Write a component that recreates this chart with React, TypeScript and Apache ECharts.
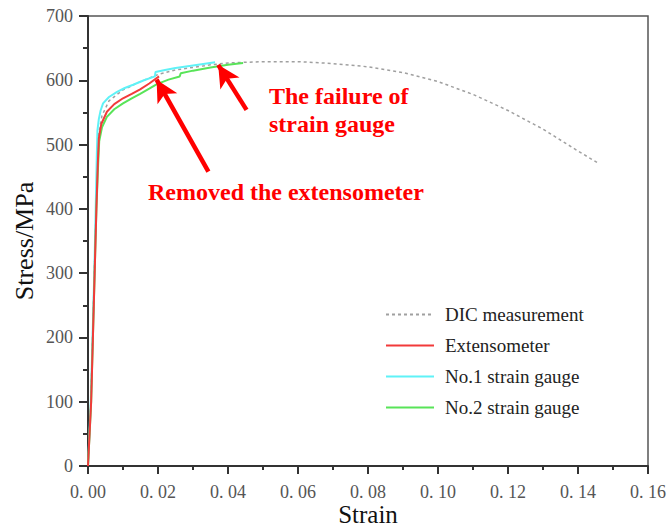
import React, { useEffect, useRef } from "react";
import * as echarts from "echarts";

const seriesNames = ["DIC measurement", "Extensometer", "No.1 strain gauge", "No.2 strain gauge"];

const dicData: number[][] = [
  [0, 0], [0.0008, 100], [0.0013, 200], [0.0018, 300], [0.0023, 400], [0.0027, 480], [0.003, 515],
  [0.004, 545], [0.006, 568], [0.01, 585], [0.015, 598], [0.02, 609], [0.025, 616], [0.03, 620],
  [0.035, 624], [0.04, 627], [0.05, 629], [0.06, 629], [0.07, 626], [0.08, 621], [0.09, 612],
  [0.1, 598], [0.11, 578], [0.12, 553], [0.13, 524], [0.14, 490], [0.1455, 472],
];

const extData: number[][] = [
  [0, 0], [0.0009, 100], [0.0014, 200], [0.0019, 300], [0.0024, 400], [0.0028, 470], [0.0031, 510],
  [0.0038, 532], [0.0054, 551], [0.0075, 563], [0.01, 572], [0.0125, 579], [0.0149, 586],
  [0.0175, 595], [0.0203, 606],
];

const gauge1Data: number[][] = [
  [0, 0], [0.0008, 100], [0.0013, 200], [0.0018, 300], [0.0022, 400], [0.0025, 480], [0.0027, 522],
  [0.0031, 540], [0.0036, 553], [0.0043, 564], [0.006, 574], [0.0083, 582], [0.0105, 588],
  [0.0129, 593], [0.016, 600], [0.0191, 606], [0.0193, 613], [0.022, 616], [0.025, 619],
  [0.03, 623], [0.0363, 628],
];

const gauge2Data: number[][] = [
  [0, 0], [0.0009, 100], [0.0014, 200], [0.0019, 300], [0.0024, 400], [0.0029, 470], [0.0032, 505],
  [0.004, 527], [0.0054, 543], [0.0075, 555], [0.01, 564], [0.0125, 572], [0.0149, 579],
  [0.0175, 587], [0.0197, 594], [0.023, 601], [0.0262, 606], [0.0265, 611], [0.03, 615],
  [0.035, 620], [0.04, 624], [0.0443, 627],
];

// annotation arrows: [tail, tip] in data coordinates
const arrowRemoved: number[][] = [[0.0344, 458], [0.0196, 601]];
const arrowFailure: number[][] = [[0.0453, 554], [0.0372, 624]];

const annotationTexts = ["Removed the extensometer", "The failure of", "strain gauge"];

export default function App() {
  const ref = useRef<HTMLDivElement>(null);
  useEffect(() => {
    if (!ref.current) return;
    const chart = echarts.init(ref.current, null, { renderer: "svg" });
    const serif = "'Liberation Serif', 'Times New Roman', serif";
    const arrowStyle = { color: "#ff0000", width: 4.5, type: "solid" as const };
    chart.setOption({
      animation: false,
      backgroundColor: "#ffffff",
      grid: {
        left: 88, right: 19, top: 16, bottom: 61,
        outerBoundsMode: "none",
        containLabel: false,
        show: true, borderColor: "#555", borderWidth: 1.5, backgroundColor: "transparent",
      },
      legend: {
        orient: "vertical",
        left: 385,
        top: 305,
        padding: 0,
        itemWidth: 48,
        itemHeight: 14,
        itemGap: 12,
        data: seriesNames,
        itemStyle: { opacity: 0 },
        textStyle: { fontFamily: serif, fontSize: 19, color: "#222", padding: [0, 0, 0, 6] },
      },
      xAxis: {
        type: "value",
        min: 0, max: 0.16, interval: 0.02,
        name: "Strain",
        nameLocation: "middle",
        nameGap: 36,
        nameMoveOverlap: false,
        nameTextStyle: { fontFamily: serif, fontSize: 25, color: "#111" },
        axisLine: { lineStyle: { color: "#333", width: 2 } },
        axisTick: { show: true, inside: false, length: 8, lineStyle: { color: "#333", width: 2 } },
        minorTick: { show: true, splitNumber: 2, length: 4, lineStyle: { color: "#333", width: 2 } },
        splitLine: { show: false },
        axisLabel: {
          margin: 17,
          fontFamily: serif, fontSize: 18, color: "#555",
          formatter: (v: number) => v.toFixed(2).replace(".", ". "),
        },
      },
      yAxis: {
        type: "value",
        min: 0, max: 700, interval: 100,
        name: "Stress/MPa",
        nameLocation: "middle",
        nameGap: 51,
        nameMoveOverlap: false,
        nameTextStyle: { fontFamily: serif, fontSize: 26, color: "#111" },
        axisLine: { show: true, lineStyle: { color: "#333", width: 2 } },
        axisTick: { show: true, inside: false, length: 9, lineStyle: { color: "#333", width: 2 } },
        minorTick: { show: true, splitNumber: 2, length: 5, lineStyle: { color: "#333", width: 2 } },
        splitLine: { show: false },
        axisLabel: { margin: 15, fontFamily: serif, fontSize: 18, color: "#555" },
      },
      series: [
        {
          name: seriesNames[0], type: "line", data: dicData, showSymbol: false, symbol: "none",
          lineStyle: { color: "#a0a0a0", width: 1.5, type: [3, 3] }, itemStyle: { color: "#a0a0a0" },
          z: 1,
        },
        {
          name: seriesNames[1], type: "line", data: extData, showSymbol: false, symbol: "none",
          lineStyle: { color: "#f23a3a", width: 2 }, itemStyle: { color: "#f23a3a" }, z: 3,
          markLine: {
            silent: true,
            symbol: ["none", "arrow"],
            symbolSize: [17, 22],
            label: { show: false },
            lineStyle: arrowStyle,
            data: [
              [{ coord: arrowRemoved[0] }, { coord: arrowRemoved[1] }],
              [{ coord: arrowFailure[0] }, { coord: arrowFailure[1] }],
            ],
          },
        },
        {
          name: seriesNames[2], type: "line", data: gauge1Data, showSymbol: false, symbol: "none",
          lineStyle: { color: "#5ff2f7", width: 2 }, itemStyle: { color: "#5ff2f7" }, z: 2,
        },
        {
          name: seriesNames[3], type: "line", data: gauge2Data, showSymbol: false, symbol: "none",
          lineStyle: { color: "#58e458", width: 2 }, itemStyle: { color: "#58e458" }, z: 2,
        },
      ],
      graphic: [
        {
          type: "text", left: 148, top: 180,
          style: { text: annotationTexts[0], fill: "#ff0000", font: `bold 24px ${serif}` },
        },
        {
          type: "text", left: 269, top: 84,
          style: { text: annotationTexts[1], fill: "#ff0000", font: `bold 24px ${serif}` },
        },
        {
          type: "text", left: 269, top: 112,
          style: { text: annotationTexts[2], fill: "#ff0000", font: `bold 24px ${serif}` },
        },
      ],
    });
    return () => chart.dispose();
  }, []);
  return (
    <div
      ref={ref}
      style={{ position: "fixed", left: 0, top: 0, width: 667, height: 527, background: "#fff" }}
    />
  );
}
